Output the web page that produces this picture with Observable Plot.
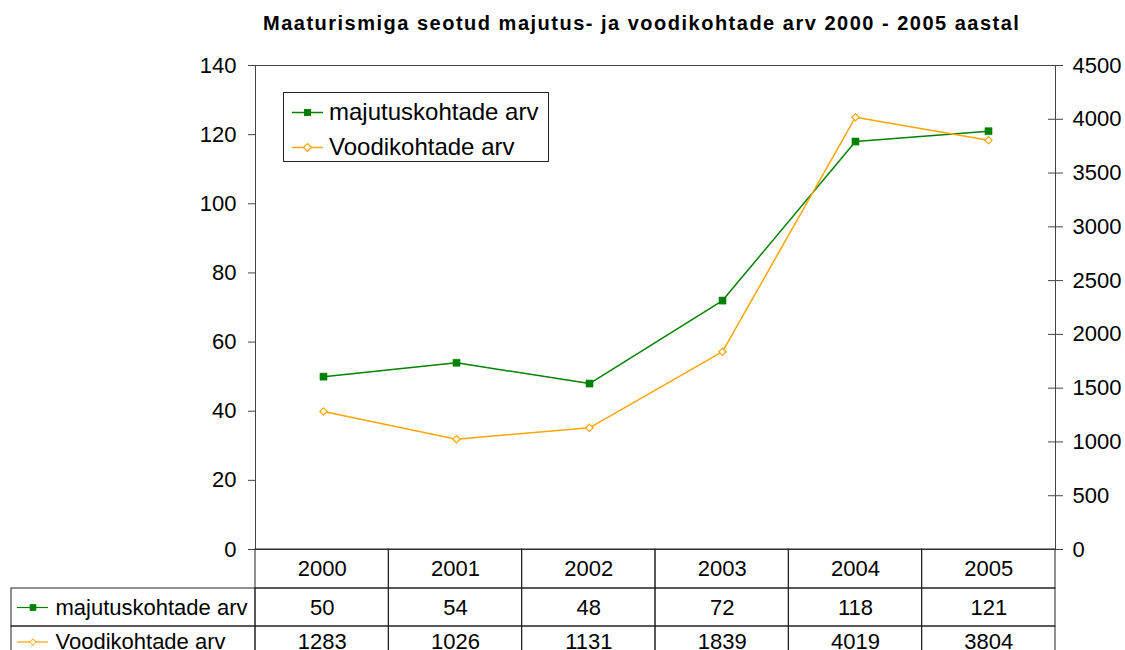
<!DOCTYPE html>
<html>
<head>
<meta charset="utf-8">
<script src="https://cdn.jsdelivr.net/npm/d3@7"></script>
<script src="https://cdn.jsdelivr.net/npm/@observablehq/plot@0.6"></script>
<style>
  html, body { margin: 0; padding: 0; background: #fff; }
  body { width: 1125px; height: 650px; overflow: hidden; font-family: "Liberation Sans", Arial, sans-serif; }
  #wrap { position: relative; width: 1125px; height: 650px; }
  #title { position: absolute; left: 263px; top: 13px; font-size: 20px; font-weight: bold; line-height: 1; letter-spacing: 1.5px; white-space: nowrap; color: #000; }
  #legend { position: absolute; left: 283px; top: 92px; width: 264px; height: 68px; border: 1px solid #222; background: #fff; font-size: 24px; }
  .lrow { position: absolute; left: 0; height: 30px; display: flex; align-items: center; }
  .lrow svg { margin-left: 8px; margin-right: 6px; }
  #chart svg, #table svg { display: block; overflow: visible; }
</style>
</head>
<body>
<div id="wrap">
  <div id="chart"></div>
  <div id="table"></div>
  <div id="title"></div>
  <div id="legend"></div>
</div>
<script>
// ---- data ----
const years = [2000, 2001, 2002, 2003, 2004, 2005];
const majutus = [50, 54, 48, 72, 118, 121];
const voodi = [1283, 1026, 1131, 1839, 4019, 3804];
const leftTicks = [0, 20, 40, 60, 80, 100, 120, 140];
const rightTicks = [0, 500, 1000, 1500, 2000, 2500, 3000, 3500, 4000, 4500];
const seriesNames = ["majutuskohtade arv", "Voodikohtade arv"];
const titleText = "Maaturismiga seotud majutus- ja voodikohtade arv 2000 - 2005 aastal";

// ---- style ----
const green = "#008000";
const orange = "#FFA500";
const axisColor = "#444";
const font = "'Liberation Sans', Arial, sans-serif";

const leftMax = leftTicks[leftTicks.length - 1];
const rightMax = rightTicks[rightTicks.length - 1];
const k = leftMax / rightMax;

const d1 = years.map((y, i) => ({year: y, v: majutus[i]}));
const d2 = years.map((y, i) => ({year: y, v: voodi[i] * k}));

document.getElementById("title").textContent = titleText;

const chart = Plot.plot({
  width: 1125, height: 549,
  marginTop: 65, marginBottom: 0, marginLeft: 255, marginRight: 70,
  style: {fontFamily: font, fontSize: "22px", color: "#000", background: "transparent", overflow: "visible"},
  x: {type: "point", domain: years, padding: 0.5, axis: null, label: null},
  y: {domain: [0, leftMax], axis: null, label: null},
  marks: [
    Plot.frame({stroke: axisColor}),
    Plot.axisY({anchor: "left", ticks: leftTicks, tickSize: 7, tickPadding: 12, stroke: axisColor, fill: "#000", label: null}),
    Plot.axisY({anchor: "right", ticks: rightTicks.map(v => v * k), tickFormat: d => String(Math.round(d / k)),
      tickSize: 15, insetRight: 8, tickPadding: 10, stroke: axisColor, fill: "#000", label: null}),
    Plot.line(d1, {x: "year", y: "v", stroke: green, strokeWidth: 1.5}),
    Plot.line(d2, {x: "year", y: "v", stroke: orange, strokeWidth: 1.5}),
    Plot.dot(d1, {x: "year", y: "v", symbol: "square", r: 4, fill: green, stroke: green, strokeWidth: 0.5}),
    Plot.dot(d2, {x: "year", y: "v", symbol: "diamond2", r: 3.3, fill: "#fff", stroke: orange, strokeWidth: 1.2})
  ]
});
document.getElementById("chart").appendChild(chart);

// ---- data table under the chart ----
const colW = 800 / years.length;
const col = px => (px - 255) / colW;   // layout helper: page px -> column units
const labelStart = col(11);
const rowEdges = [0, 39, 77, 108];      // layout: row boundaries (px inside the table svg)
const rows = [
  {row: 1, name: seriesNames[0], values: majutus, color: green, symbol: "square", r: 3.2, fill: green},
  {row: 2, name: seriesNames[1], values: voodi, color: orange, symbol: "diamond2", r: 2.6, fill: "#fff"}
];
const cells = [];
years.forEach((y, i) => cells.push({x1: i, x2: i + 1, row: 0, text: String(y)}));
rows.forEach(r => {
  cells.push({x1: labelStart, x2: 0, row: r.row, text: ""});
  r.values.forEach((v, i) => cells.push({x1: i, x2: i + 1, row: r.row, text: String(v)}));
});
const rowTop = d => rowEdges[d.row];
const rowBottom = d => rowEdges[d.row + 1];
const rowMid = d => (rowEdges[d.row] + rowEdges[d.row + 1]) / 2;

const table = Plot.plot({
  width: 1125, height: 110,
  marginTop: 0, marginBottom: 0, marginLeft: 255, marginRight: 70,
  style: {fontFamily: font, fontSize: "22px", color: "#000", background: "transparent", overflow: "visible"},
  x: {domain: [0, years.length], axis: null, label: null},
  y: {type: "identity", axis: null, label: null},
  marks: [
    Plot.rect(cells, {x1: "x1", x2: "x2", y1: rowTop, y2: rowBottom, fill: "none", stroke: "#222"}),
    Plot.text(cells, {x: d => (d.x1 + d.x2) / 2, y: rowMid, text: "text", fill: "#000"}),
    Plot.ruleY(rows, {y: rowMid, x1: () => col(17), x2: () => col(48), stroke: d => d.color, strokeWidth: 1.2}),
    Plot.dot(rows, {x: () => col(32.5), y: rowMid, symbol: d => d.symbol, r: d => d.r, fill: d => d.fill, stroke: d => d.color, strokeWidth: 1}),
    Plot.text(rows, {x: () => col(55), y: rowMid, text: "name", textAnchor: "start", fill: "#000"})
  ]
});
document.getElementById("table").appendChild(table);

// ---- legend (HTML) ----
const legend = document.getElementById("legend");
const legendItems = [
  {name: seriesNames[0], color: green, marker: `<rect x="12" y="5" width="7" height="7" fill="${green}"/>`},
  {name: seriesNames[1], color: orange, marker: `<path d="M15.5,4.5 L19.5,8.5 L15.5,12.5 L11.5,8.5 Z" fill="#fff" stroke="${orange}" stroke-width="1.2"/>`}
];
legendItems.forEach((it, i) => {
  const div = document.createElement("div");
  div.className = "lrow";
  div.style.top = (i === 0 ? 4 : 39) + "px";
  div.innerHTML = `<svg width="31" height="17"><line x1="0" x2="31" y1="8.5" y2="8.5" stroke="${it.color}" stroke-width="1.5"/>${it.marker}</svg><span>${it.name}</span>`;
  legend.appendChild(div);
});
</script>
</body>
</html>
